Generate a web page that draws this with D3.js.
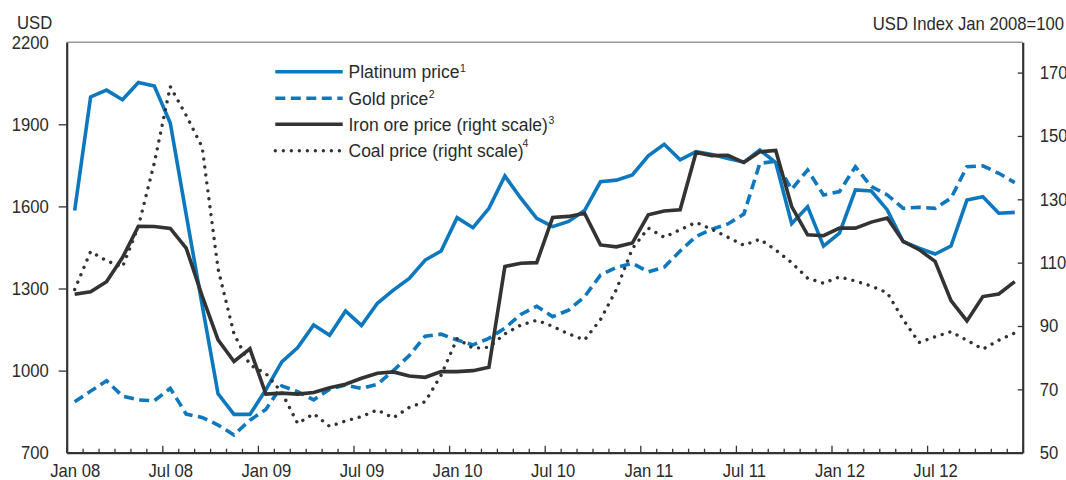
<!DOCTYPE html>
<html><head><meta charset="utf-8">
<script src="https://cdn.jsdelivr.net/npm/d3@7"></script>
<style>
body{margin:0;background:#fff;}
svg text{font-family:"Liberation Sans",Arial,Helvetica,sans-serif;fill:#2a2a2a;}
</style></head><body>
<svg id="chart" width="1066" height="480"></svg>
<script>
const months = ["Jan 08","Feb 08","Mar 08","Apr 08","May 08","Jun 08","Jul 08","Aug 08","Sep 08","Oct 08","Nov 08","Dec 08",
"Jan 09","Feb 09","Mar 09","Apr 09","May 09","Jun 09","Jul 09","Aug 09","Sep 09","Oct 09","Nov 09","Dec 09",
"Jan 10","Feb 10","Mar 10","Apr 10","May 10","Jun 10","Jul 10","Aug 10","Sep 10","Oct 10","Nov 10","Dec 10",
"Jan 11","Feb 11","Mar 11","Apr 11","May 11","Jun 11","Jul 11","Aug 11","Sep 11","Oct 11","Nov 11","Dec 11",
"Jan 12","Feb 12","Mar 12","Apr 12","May 12","Jun 12","Jul 12","Aug 12","Sep 12","Oct 12","Nov 12","Dec 12"];
const tickLabels = ["Jan 08","Jul 08","Jan 09","Jul 09","Jan 10","Jul 10","Jan 11","Jul 11","Jan 12","Jul 12"];
const leftTicks = [700,1000,1300,1600,1900,2200];
const rightTicks = [50,70,90,110,130,150,170];

const platinum = [1585,2000,2025,1990,2053,2040,1905,1570,1240,915,840,840,
930,1032,1084,1167,1129,1218,1165,1246,1294,1337,1404,1437,
1559,1522,1593,1711,1630,1556,1526,1545,1585,1690,1696,1715,
1785,1827,1770,1800,1790,1775,1762,1806,1760,1537,1599,1455,
1502,1660,1656,1587,1471,1447,1426,1455,1623,1635,1575,1578];
const gold = [886,925,963,907,893,890,935,841,829,801,765,819,
858,944,923,893,932,947,935,950,1000,1055,1126,1133,
1112,1094,1118,1155,1205,1235,1197,1221,1270,1349,1377,1392,
1361,1378,1437,1490,1517,1536,1572,1757,1765,1662,1733,1642,
1654,1745,1672,1642,1593,1597,1593,1630,1745,1748,1721,1687];
const ironOre = [100,100.8,104,111.6,121.5,121.4,120.8,114.6,99.5,85.6,78.8,82.8,
68.5,68.8,68.5,69.0,70.5,71.6,73.5,75.1,75.5,74.2,73.8,75.6,
75.6,75.9,77.0,108.8,109.8,110.0,124.3,124.6,125.6,115.6,115.0,116.2,
125.1,126.3,126.7,144.8,143.8,143.9,141.6,145.0,145.4,127.7,118.8,118.5,
120.9,120.9,122.8,124.1,116.7,114.1,110.4,98.0,91.6,99.3,100.1,104.0];
const coal = [101.5,113.5,110.6,108.6,121.5,141.5,165.6,156.5,146.5,108,87.5,77.7,
75,69,59.2,62.3,58.3,60,61.4,63.5,61,64.3,66.1,74.5,
86,83,83.3,87.5,90.3,91.8,89.9,87.5,85.6,92,101.5,114.4,
120.9,118,120.4,122.7,120.5,118,115.5,117.4,114,110,105.1,103.5,
105.5,104.2,102.6,100.5,92,84.8,86.6,88.2,85.5,82.7,85.5,87.8];

const seriesNames = ["Platinum price","Gold price","Iron ore price (right scale)","Coal price (right scale)"];
const seriesNotes = ["1","2","3","4"];

const BLUE = "#0d78bd", DARK = "#333333";
const L = 66.7, R = 1022.7, T = 42.2, B = 452.7;
const FS = "18.5px", SQUEEZE = 0.9;
const svg = d3.select("#chart");

function condense(sel, f) {
  sel.each(function () {
    const w = this.getComputedTextLength();
    d3.select(this).attr("textLength", w * f).attr("lengthAdjust", "spacingAndGlyphs");
  });
}

const x = d3.scaleLinear().domain([0, months.length]).range([L, R]);
const yL = d3.scaleLinear().domain([700, 2200]).range([B, T]);
const yR = d3.scaleLinear().domain([50, 179.6]).range([B, T]);

// top border
svg.append("line").attr("x1", L).attr("x2", R).attr("y1", T).attr("y2", T)
  .attr("stroke", "#666").attr("stroke-width", 1);

// bottom axis ticks
const gx = svg.append("g").attr("transform", `translate(0,${B})`)
  .call(d3.axisBottom(x).tickValues(d3.range(0, months.length + 1)).tickSize(-4).tickSizeOuter(0).tickFormat(""));
gx.selectAll(".tick line").attr("stroke", DARK).attr("stroke-width", 1.3)
  .attr("y2", d => d % 6 === 0 ? -7 : -4);
gx.select(".domain").attr("stroke", DARK).attr("stroke-width", 2.2);

const gxl = svg.append("g").attr("transform", `translate(0,${B})`)
  .call(d3.axisBottom(x).tickValues(tickLabels.map((d, k) => k * 6 + 0.5)).tickSize(0).tickPadding(11)
    .tickFormat((d, k) => tickLabels[k]));
gxl.select(".domain").remove();
gxl.selectAll("text").style("font-size", FS).attr("fill", "#2a2a2a").call(condense, SQUEEZE);

// left axis
const gl = svg.append("g").attr("transform", `translate(${L},0)`)
  .call(d3.axisLeft(yL).tickValues(leftTicks).tickSize(8).tickPadding(10).tickSizeOuter(0).tickFormat(d3.format("d")));
gl.select(".domain").attr("stroke", DARK).attr("stroke-width", 2.2);
gl.selectAll(".tick line").attr("stroke", DARK).attr("stroke-width", 1.3)
  .attr("display", d => (d === 700 || d === 2200) ? "none" : null);
gl.selectAll("text").style("font-size", FS).attr("fill", "#2a2a2a").call(condense, SQUEEZE);

// right axis
const gr = svg.append("g").attr("transform", `translate(${R},0)`)
  .call(d3.axisRight(yR).tickValues(rightTicks).tickSize(-5).tickPadding(17).tickSizeOuter(0));
gr.select(".domain").attr("stroke", DARK).attr("stroke-width", 2.2);
gr.selectAll(".tick line").attr("stroke", DARK).attr("stroke-width", 1.3)
  .attr("display", d => d === 50 ? "none" : null);
gr.selectAll("text").style("font-size", FS).attr("fill", "#2a2a2a").call(condense, SQUEEZE);

// axis titles
svg.append("text").attr("x", 17).attr("y", 29).style("font-size", FS).text("USD").call(condense, SQUEEZE);
svg.append("text").attr("x", 1064).attr("y", 29.5).attr("text-anchor", "end").style("font-size", FS)
  .text("USD Index Jan 2008=100").call(condense, SQUEEZE);

// series
const lineL = d3.line().x((d, i) => x(i + 0.5)).y(d => yL(d));
const lineR = d3.line().x((d, i) => x(i + 0.5)).y(d => yR(d));
const styles = [
  {data: platinum, gen: lineL, color: BLUE, dash: null, cap: "butt", w: 3.6},
  {data: gold, gen: lineL, color: BLUE, dash: "10,5.5", cap: "butt", w: 3.6},
  {data: ironOre, gen: lineR, color: DARK, dash: null, cap: "butt", w: 3.6},
  {data: coal, gen: lineR, color: DARK, dash: "0.01,8", cap: "round", w: 3.4}
];
styles.forEach(s => {
  svg.append("path").attr("d", s.gen(s.data)).attr("fill", "none")
    .attr("stroke", s.color).attr("stroke-width", s.w)
    .attr("stroke-dasharray", s.dash).attr("stroke-linecap", s.cap)
    .attr("stroke-linejoin", "miter").attr("stroke-miterlimit", 3);
});

// legend
const legY = [71.7, 98.3, 124.3, 150.7];
styles.forEach((s, k) => {
  svg.append("line").attr("x1", 275.3).attr("x2", 342.7).attr("y1", legY[k]).attr("y2", legY[k])
    .attr("stroke", s.color).attr("stroke-width", s.w)
    .attr("stroke-dasharray", s.dash).attr("stroke-linecap", s.cap);
  const t = svg.append("text").attr("x", 348.5).attr("y", legY[k] + 6.3).style("font-size", "17.5px");
  t.append("tspan").text(seriesNames[k]);
  const sup = t.append("tspan").style("font-size", "10.5px").text(seriesNotes[k]);
  if (k === 3) sup.attr("dx", -1).attr("dy", -10.5);
  else sup.attr("dx", 0.5).attr("dy", -6.5);
});
</script>
</body></html>
